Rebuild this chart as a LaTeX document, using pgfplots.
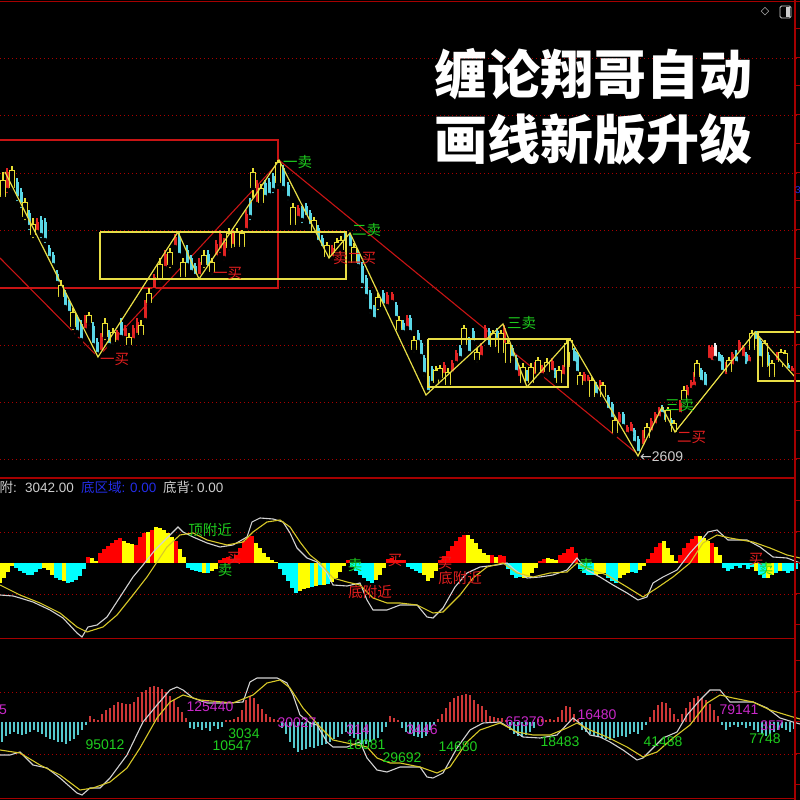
\documentclass[border=0pt]{standalone}
\usepackage{pgfplots}
\usepackage{pgfplotstable}
\pgfplotsset{compat=1.18}
\usepackage{fontspec}
\setmainfont{Liberation Sans}
\newfontfamily\cjk{Noto Sans CJK SC}
\newfontfamily\djv{DejaVu Sans}

\definecolor{framered}{RGB}{165,0,0}
\definecolor{gridred}{RGB}{170,0,0}
\definecolor{kcyan}{RGB}{90,215,230}
\definecolor{kred}{RGB}{225,35,35}
\definecolor{kyellow}{RGB}{232,222,50}
\definecolor{kwhite}{RGB}{240,240,240}
\definecolor{zzyellow}{RGB}{232,222,70}
\definecolor{zzred}{RGB}{200,20,20}
\definecolor{mred}{RGB}{255,0,0}
\definecolor{myellow}{RGB}{255,255,0}
\definecolor{mcyan}{RGB}{0,255,255}
\definecolor{vred}{RGB}{205,55,55}
\definecolor{vcyan}{RGB}{85,200,205}
\definecolor{difwhite}{RGB}{210,210,210}
\definecolor{deayellow}{RGB}{215,200,40}
\definecolor{lblgreen}{RGB}{30,205,30}
\definecolor{lblred}{RGB}{225,30,30}
\definecolor{lblmag}{RGB}{200,40,200}
\definecolor{txtgrey}{RGB}{205,205,205}
\definecolor{txtblue}{RGB}{35,45,230}

% ---------- daily candles: x, open, close, high, low ----------
\pgfplotstableread{
x o c h l
17 3157 3125 3165 3115
21 3137 3111 3145 3101
29 3095 3067 3101 3057
41 3081 3051 3089 3041
45 3077 3041 3085 3031
49 3025 3005 3031 2997
53 3011 2991 3017 2985
57 2973 2955 2981 2951
65 2935 2907 2941 2901
69 2915 2895 2921 2889
77 2885 2857 2891 2851
81 2873 2841 2881 2837
93 2869 2831 2877 2825
97 2837 2813 2845 2807
109 2855 2831 2861 2825
121 2877 2847 2885 2841
179 3045 3011 3057 3005
187 3021 2991 3031 2985
191 3005 2977 3011 2971
195 2989 2969 2995 2965
208 3013 2985 3021 2977
250 3117 3087 3125 3077
265 3155 3127 3161 3121
269 3157 3131 3165 3125
273 3169 3141 3175 3131
283 3185 3145 3191 3137
288 3151 3125 3157 3117
302 3103 3081 3109 3071
306 3109 3087 3115 3081
310 3095 3069 3101 3061
318 3065 3037 3071 3031
322 3045 3025 3051 3021
345 3053 3035 3057 3031
350 3049 3025 3055 3017
358 3015 2989 3021 2981
362 2989 2951 2997 2941
366 2965 2929 2971 2921
370 2935 2899 2941 2891
374 2907 2883 2911 2877
383 2935 2911 2941 2905
396 2911 2885 2917 2877
403 2875 2857 2881 2851
410 2885 2857 2891 2851
418 2855 2837 2861 2831
421 2835 2809 2841 2801
424 2805 2773 2811 2765
428 2769 2737 2777 2731
432 2783 2755 2789 2749
460 2825 2805 2831 2797
469 2841 2815 2847 2809
473 2859 2837 2865 2831
489 2859 2827 2865 2821
497 2859 2841 2865 2837
512 2825 2805 2831 2797
516 2805 2777 2811 2771
527 2775 2755 2781 2749
555 2781 2761 2785 2757
574 2819 2795 2825 2789
577 2811 2775 2817 2769
596 2751 2731 2757 2725
608 2727 2701 2731 2697
612 2713 2683 2717 2677
623 2693 2669 2697 2665
634 2661 2635 2665 2631
638 2643 2615 2649 2609
662 2707 2693 2711 2689
665 2697 2677 2701 2671
671 2681 2665 2685 2661
701 2781 2757 2785 2751
705 2773 2747 2777 2741
719 2813 2795 2817 2791
722 2807 2777 2811 2771
736 2817 2795 2821 2791
746 2813 2789 2817 2785
756 2855 2839 2859 2835
760 2839 2805 2845 2797
768 2811 2785 2817 2777
788 2791 2781 2795 2777
}\cyanK

\pgfplotstableread{
x o c h l
7 3141 3177 3185 3131
37 3057 3077 3085 3049
85 2861 2885 2891 2857
101 2817 2849 2855 2811
117 2837 2857 2861 2831
125 2845 2865 2871 2837
133 2841 2865 2871 2835
137 2851 2877 2885 2845
145 2881 2915 2921 2877
154 2941 2967 2973 2937
165 2985 3013 3021 2977
175 3027 3047 3053 3021
199 2969 2997 3005 2963
216 3007 3033 3041 3001
220 3021 3053 3061 3011
224 3005 3037 3045 2997
233 3029 3055 3061 3021
246 3061 3093 3101 3051
257 3113 3153 3161 3105
298 3085 3105 3111 3077
332 3005 3025 3031 2997
387 2909 2931 2937 2901
392 2917 2933 2937 2911
407 2865 2885 2891 2857
444 2771 2791 2797 2765
452 2775 2795 2801 2769
456 2795 2815 2821 2789
481 2807 2829 2835 2801
485 2841 2865 2871 2835
504 2831 2865 2871 2825
519 2765 2785 2791 2757
535 2769 2791 2797 2761
542 2771 2787 2791 2765
552 2777 2799 2805 2771
563 2769 2787 2791 2765
584 2755 2773 2777 2751
588 2755 2767 2771 2751
600 2741 2757 2761 2737
619 2673 2693 2697 2669
627 2653 2667 2671 2649
631 2655 2673 2677 2649
643 2629 2655 2661 2621
651 2657 2679 2685 2651
655 2671 2693 2697 2665
659 2685 2703 2707 2681
680 2693 2715 2721 2687
687 2727 2747 2751 2721
691 2741 2757 2761 2735
694 2747 2771 2777 2741
709 2801 2827 2831 2797
712 2797 2827 2831 2791
726 2769 2793 2797 2765
732 2789 2813 2817 2785
739 2815 2837 2841 2811
743 2805 2827 2831 2801
749 2795 2807 2811 2791
777 2797 2813 2817 2791
792 2775 2785 2789 2771
}\redK

\pgfplotstableread{
x o c h l
715 2805 2831 2835 2797
}\whiteK

\pgfplotstableread{
x o c h l
3 3127 3161 3177 3121
12 3145 3181 3189 3137
25 3087 3117 3125 3077
33 3051 3073 3085 3041
61 2927 2951 2961 2921
73 2867 2897 2905 2857
89 2875 2891 2897 2867
105 2847 2875 2885 2837
113 2837 2857 2865 2829
129 2831 2847 2855 2823
141 2851 2871 2881 2845
149 2915 2935 2945 2909
160 2961 2993 3005 2953
170 2991 3017 3025 2981
183 2967 2997 3005 2961
204 2991 3011 3021 2981
212 2977 2997 3005 2969
229 3025 3055 3065 3017
237 3027 3057 3065 3021
242 3027 3055 3061 3021
253 3145 3177 3185 3121
261 3115 3145 3153 3107
278 3155 3197 3201 3147
293 3071 3107 3115 3065
314 3055 3081 3087 3049
327 3007 3031 3037 3001
337 3015 3037 3045 3009
341 3021 3041 3049 3013
354 2995 3027 3035 2989
378 2907 2927 2935 2897
399 2861 2881 2889 2853
414 2821 2841 2849 2813
436 2755 2781 2789 2747
440 2765 2785 2791 2757
448 2751 2777 2785 2745
464 2831 2865 2871 2825
477 2801 2817 2825 2793
493 2827 2855 2861 2821
501 2815 2855 2861 2809
508 2795 2835 2841 2789
523 2755 2787 2795 2749
531 2755 2787 2795 2749
538 2775 2801 2807 2767
547 2777 2797 2805 2769
559 2755 2781 2789 2749
567 2787 2835 2841 2781
570 2821 2841 2845 2815
580 2751 2771 2777 2745
592 2727 2761 2767 2721
603 2727 2751 2757 2721
615 2655 2681 2687 2649
647 2645 2667 2675 2639
668 2677 2701 2707 2671
674 2657 2675 2681 2653
684 2721 2741 2749 2713
697 2767 2795 2801 2761
729 2777 2801 2807 2771
752 2821 2855 2861 2815
765 2787 2835 2841 2781
772 2767 2795 2801 2761
781 2797 2817 2823 2791
785 2787 2815 2821 2781
}\yellowK

% ---------- MACD histogram ----------
\pgfplotstableread{
x v
88 6
100 10
104 14
108 17
112 20
116 23
120 25
136 18
140 26
144 30
152 33
176 22
220 3
224 5
228 6
232 4
236 8
240 15
244 22
248 26
252 27
348 3
388 4
392 5
396 3
400 3
404 3
440 3
444 7
448 12
452 17
456 22
460 26
464 28
492 8
500 8
504 7
540 2
544 4
560 8
564 10
568 14
572 16
576 10
648 4
652 10
656 16
660 20
680 8
684 15
688 20
692 24
696 27
712 20
}\macdRed

\pgfplotstableread{
x v
0 -20
4 -15
8 -9
12 -3
44 -5
48 -7
52 -12
64 -18
92 5
96 2
124 22
128 20
132 19
148 31
156 36
160 35
164 33
168 30
172 26
180 14
184 6
204 -10
212 -8
216 -6
256 20
260 15
264 10
268 6
272 3
276 1
300 -28
304 -26
308 -25
316 -23
324 -22
332 -19
336 -15
340 -9
344 -3
376 -17
380 -12
384 -5
424 -12
428 -18
432 -15
436 -8
468 28
472 24
476 20
480 14
484 10
488 8
496 6
524 -15
528 -14
532 -10
536 -5
548 5
552 4
556 3
596 -12
600 -11
604 -10
620 -15
624 -12
628 -10
640 -7
644 -3
664 22
668 15
672 8
676 2
700 27
704 25
708 22
716 16
720 8
756 -8
768 -15
772 -12
780 -8
}\macdYellow

\pgfplotstableread{
x v
16 -5
20 -8
24 -10
28 -12
32 -12
36 -9
40 -6
56 -15
60 -17
68 -20
72 -19
76 -17
80 -13
84 -6
188 -5
192 -7
196 -8
200 -9
208 -10
280 -6
284 -12
288 -18
292 -25
296 -30
312 -24
320 -22
328 -21
352 -4
356 -8
360 -12
364 -15
368 -18
372 -20
408 -4
412 -6
416 -8
420 -10
508 -6
512 -12
516 -15
520 -14
580 -6
584 -10
588 -12
592 -12
608 -15
612 -18
616 -20
632 -9
636 -10
724 -5
728 -8
732 -6
736 -3
740 -5
744 -2
748 -6
752 -4
760 -12
764 -15
776 -10
784 -8
788 -10
792 -8
796 -6
}\macdCyan

% ---------- lower histogram ----------
\pgfplotstableread{
x v
90 6
94 3
98 2
102 8
106 12
110 14
114 17
118 20
122 19
126 18
130 18
134 20
138 25
142 30
146 32
150 35
154 36
158 35
162 33
166 30
170 26
174 22
178 15
182 10
186 4
226 2
230 2
234 3
238 5
242 12
246 22
250 26
254 24
258 18
262 13
266 8
270 5
274 3
278 2
390 6
394 4
398 2
438 3
442 8
446 14
450 20
454 24
458 26
462 27
466 28
470 27
474 22
478 18
482 16
486 12
490 6
494 5
498 4
502 4
506 2
538 3
542 3
546 2
550 3
554 2
558 5
562 12
566 16
570 15
574 8
578 3
650 5
654 12
658 17
662 20
666 19
670 14
674 8
678 3
682 8
686 14
690 20
694 24
698 26
702 24
706 22
710 18
714 12
718 6
}\volRed

\pgfplotstableread{
x v
2 -20
6 -14
10 -12
14 -10
18 -12
22 -13
26 -12
30 -10
34 -8
38 -10
42 -12
46 -15
50 -17
54 -18
58 -20
62 -20
66 -22
70 -19
74 -17
78 -13
82 -8
86 -3
190 -6
194 -7
198 -5
202 -8
206 -6
210 -9
214 -4
218 -7
222 -5
282 -6
286 -12
290 -20
294 -26
298 -30
302 -28
306 -27
310 -25
314 -26
318 -24
322 -23
326 -22
330 -20
334 -17
338 -15
342 -12
346 -10
350 -14
354 -16
358 -18
362 -22
366 -22
370 -20
374 -18
378 -16
382 -10
386 -5
402 -6
406 -10
410 -12
414 -14
418 -15
422 -16
426 -14
430 -8
434 -3
510 -8
514 -12
518 -14
522 -15
526 -13
530 -10
534 -6
582 -8
586 -10
590 -12
594 -14
598 -15
602 -16
606 -17
610 -18
614 -16
618 -15
622 -14
626 -15
630 -12
634 -10
638 -12
642 -8
646 -3
722 -3
726 -8
730 -5
734 -3
738 -5
742 -3
746 -6
750 -4
754 -8
758 -10
762 -12
766 -14
770 -12
774 -10
778 -8
782 -6
786 -8
790 -10
794 -7
}\volCyan

\pgfplotsset{
  panel/.style={scale only axis, width=800pt, anchor=south west,
    xmin=0, xmax=800, axis line style={draw=none}, tick style={draw=none},
    xtick=\empty, yticklabels={}, ymajorgrids,
    major grid style={gridred, dash pattern=on 1pt off 3pt, line width=0.9pt},
    clip mode=individual},
  bar/.style={only marks, mark=none,
    error bars/y dir=plus, error bars/y explicit, error bars/error mark=none,
    error bars/error bar style={solid, line width=1.2pt, #1}},
}
\tikzset{
  lbl/.style={font=\cjk\fontsize{14.5}{15}\selectfont, inner sep=0pt},
  num/.style={font=\fontsize{14}{15}\selectfont, inner sep=0pt},
}

\begin{document}
\begin{tikzpicture}
\useasboundingbox (0pt,0pt) rectangle (800pt,800pt);
\fill[black] (0pt,0pt) rectangle (800pt,800pt);
\clip (0pt,0pt) rectangle (800pt,800pt);

% ================= price panel =================
\begin{axis}[panel, at={(0pt,322pt)}, height=478pt, ymin=2565, ymax=3521,
  ytick={2603,2717,2831,2946,3061,3175,3290,3405}]
  % higher-level stroke and its pivot range
  \addplot[zzred, line width=1.1pt] coordinates {(-10,3241) (278,3241) (278,2945) (-10,2945) (-10,3241)};
  \addplot[zzred, line width=1.1pt] coordinates {(0,3005) (98,2807) (280,3199) (640,2609)};
  % candles
  \addplot[bar=kcyan] table[x=x, y=l, y error plus expr=\thisrow{h}-\thisrow{l}] {\cyanK};
  \addplot[bar={kcyan, line width=3pt}] table[x=x, y=c, y error plus expr=\thisrow{o}-\thisrow{c}] {\cyanK};
  \addplot[bar=kred] table[x=x, y=l, y error plus expr=\thisrow{h}-\thisrow{l}] {\redK};
  \addplot[bar={kred, line width=3pt}] table[x=x, y=o, y error plus expr=\thisrow{c}-\thisrow{o}] {\redK};
  \addplot[bar=kwhite] table[x=x, y=l, y error plus expr=\thisrow{h}-\thisrow{l}] {\whiteK};
  \addplot[bar={kwhite, line width=3pt}] table[x=x, y=o, y error plus expr=\thisrow{c}-\thisrow{o}] {\whiteK};
  \addplot[bar=kyellow] table[x=x, y=l, y error plus expr=\thisrow{h}-\thisrow{l}] {\yellowK};
  \addplot[bar={kyellow, line width=5.6pt}] table[x=x, y=o, y error plus expr=\thisrow{c}-\thisrow{o}] {\yellowK};
  \addplot[bar={black, line width=3.4pt}] table[x=x, y expr=\thisrow{o}+2.4, y error plus expr=\thisrow{c}-\thisrow{o}-4.8] {\yellowK};
  % pivot boxes
  \addplot[zzyellow, line width=1.2pt] coordinates {(100,3057) (346,3057) (346,2963) (100,2963) (100,3057)};
  \addplot[zzyellow, line width=1.2pt] coordinates {(428,2843) (568,2843) (568,2747) (428,2747) (428,2843)};
  \addplot[zzyellow, line width=1.2pt] coordinates {(805,2857) (758,2857) (758,2759) (805,2759)};
  % strokes
  \addplot[zzyellow, line width=1.2pt] coordinates {(5,3177) (98,2807) (178,3057) (199,2963) (279,3201) (329,3005) (350,3055) (426,2731) (503,2873) (527,2747) (570,2843) (638,2609) (662,2707) (675,2657) (755,2857) (795,2767)};
  % signals
  \node[lbl, text=lblgreen, anchor=west] at (axis cs:283,3197) {一卖};
  \node[lbl, text=lblgreen, anchor=west] at (axis cs:352,3061) {二卖};
  \node[lbl, text=lblred, anchor=west] at (axis cs:333,3005) {卖};
  \node[lbl, text=lblred, anchor=west] at (axis cs:347,3005) {二买};
  \node[lbl, text=lblred, anchor=west] at (axis cs:100,2803) {一买};
  \node[lbl, text=lblred, anchor=west] at (axis cs:213,2975) {一买};
  \node[lbl, text=lblgreen, anchor=west] at (axis cs:507,2875) {三卖};
  \node[lbl, text=lblgreen, anchor=west] at (axis cs:665,2711) {三卖};
  \node[lbl, text=lblred, anchor=west] at (axis cs:677,2647) {二买};
  \node[num, text=txtgrey, anchor=west] at (axis cs:640,2607) {{\djv ←}2609};
\end{axis}

% ================= MACD panel =================
\begin{axis}[panel, at={(0pt,162pt)}, height=160pt, ymin=-75, ymax=85, ytick={-31,31}]
  \addplot[ycomb, mark=none, mred, line width=4.3pt] table[x=x, y=v] {\macdRed};
  \addplot[ycomb, mark=none, myellow, line width=4.3pt] table[x=x, y=v] {\macdYellow};
  \addplot[ycomb, mark=none, mcyan, line width=4.3pt] table[x=x, y=v] {\macdCyan};
  \addplot[difwhite, line width=1.1pt] coordinates {(0,-32) (13,-33) (20,-35) (33,-39) (50,-47) (63,-55) (77,-70) (82,-74) (88,-64) (97,-62) (107,-54) (120,-34) (133,-14) (143,-2) (155,13) (170,28) (178,36) (183,31) (193,26) (207,20) (220,16) (233,18) (247,26) (252,41) (260,45) (273,44) (283,41) (290,30) (297,15) (307,5) (317,1) (327,-10) (333,-22) (347,-23) (360,-20) (367,-37) (373,-47) (387,-47) (400,-42) (417,-42) (427,-54) (433,-55) (443,-45) (455,-24) (467,-10) (480,-4) (497,-2) (507,0) (515,-7) (527,-15) (540,-14) (553,-12) (567,-7) (577,5) (587,-7) (600,-14) (613,-22) (627,-30) (638,-37) (647,-34) (653,-20) (663,-14) (677,-7) (690,10) (700,21) (708,31) (717,33) (728,23) (747,23) (760,16) (773,6) (787,5) (800,0)};
  \addplot[deayellow, line width=1.1pt] coordinates {(0,-22) (10,-27) (20,-32) (40,-40) (60,-50) (77,-64) (87,-69) (103,-64) (117,-52) (133,-32) (147,-14) (157,1) (167,16) (180,28) (193,30) (207,23) (227,18) (243,21) (253,31) (267,41) (280,43) (290,36) (300,21) (310,8) (320,0) (333,-15) (347,-19) (360,-22) (373,-35) (387,-40) (400,-40) (417,-42) (433,-50) (443,-49) (460,-32) (473,-15) (487,-4) (503,0) (517,-10) (533,-14) (550,-10) (567,-9) (577,0) (587,-5) (607,-12) (627,-24) (643,-34) (657,-25) (673,-14) (690,0) (703,20) (717,28) (730,25) (753,21) (770,15) (787,8) (800,5)};
  \node[lbl, text=lblgreen] at (axis cs:210,33) {顶附近};
  \node[lbl, text=lblred] at (axis cs:234,5) {买};
  \node[lbl, text=lblgreen] at (axis cs:225,-7) {卖};
  \node[lbl, text=lblgreen] at (axis cs:355,-2) {卖};
  \node[lbl, text=lblred] at (axis cs:395,3) {买};
  \node[lbl, text=lblred] at (axis cs:370,-29) {底附近};
  \node[lbl, text=lblred] at (axis cs:445,0) {买};
  \node[lbl, text=lblred] at (axis cs:460,-15) {底附近};
  \node[lbl, text=lblgreen] at (axis cs:586,-2) {卖};
  \node[lbl, text=lblred] at (axis cs:756,4) {买};
  \node[lbl, text=lblgreen] at (axis cs:766,-6) {卖};
\end{axis}

% ================= lower panel =================
\begin{axis}[panel, at={(0pt,0pt)}, height=161pt, ymin=-78, ymax=83, ytick={-32,30}]
  \addplot[ycomb, mark=none, vred, line width=1.8pt] table[x=x, y=v] {\volRed};
  \addplot[ycomb, mark=none, vcyan, line width=1.8pt] table[x=x, y=v] {\volCyan};
  \addplot[difwhite, line width=1.1pt] coordinates {(0,-33) (10,-33) (20,-30) (33,-43) (47,-46) (60,-56) (77,-71) (82,-73) (90,-66) (100,-66) (110,-56) (127,-33) (143,0) (157,17) (170,32) (177,35) (183,32) (193,24) (207,19) (227,19) (243,20) (250,40) (257,44) (277,44) (287,39) (293,27) (300,7) (310,-1) (317,-3) (327,-20) (333,-25) (347,-25) (360,-20) (367,-36) (377,-48) (387,-50) (400,-45) (420,-45) (427,-55) (433,-56) (443,-51) (457,-26) (470,-8) (483,-1) (500,0) (513,-8) (523,-15) (540,-16) (557,-13) (573,4) (582,-3) (590,-13) (600,-15) (610,-20) (623,-28) (637,-38) (643,-36) (653,-26) (663,-16) (677,-10) (687,7) (700,22) (710,32) (720,32) (730,20) (753,20) (767,14) (780,4) (793,0) (800,-2)};
  \addplot[deayellow, line width=1.1pt] coordinates {(0,-28) (20,-31) (40,-43) (60,-53) (80,-68) (93,-66) (110,-60) (127,-46) (140,-26) (157,4) (170,20) (183,27) (200,22) (233,19) (253,27) (267,39) (280,42) (290,34) (303,14) (320,-5) (333,-18) (347,-21) (367,-25) (377,-36) (390,-41) (400,-41) (420,-45) (437,-51) (450,-45) (467,-20) (480,-8) (500,-1) (517,-10) (533,-13) (550,-13) (567,-6) (577,-1) (590,-8) (607,-15) (627,-25) (643,-35) (657,-30) (673,-16) (690,-3) (707,19) (720,27) (733,24) (753,20) (770,12) (793,5) (800,3)};
  \node[num, text=lblmag] at (axis cs:3,12) {5};
  \node[num, text=lblgreen] at (axis cs:105,-23) {95012};
  \node[num, text=lblmag] at (axis cs:210,15) {125440};
  \node[num, text=lblgreen] at (axis cs:232,-24) {10547};
  \node[num, text=lblgreen] at (axis cs:244,-12) {3034};
  \node[num, text=lblmag] at (axis cs:297,-1) {30027};
  \node[num, text=lblmag] at (axis cs:358,-8) {314};
  \node[num, text=lblgreen] at (axis cs:366,-23) {18081};
  \node[num, text=lblgreen] at (axis cs:402,-36) {29692};
  \node[num, text=lblmag] at (axis cs:422,-8) {3446};
  \node[num, text=lblgreen] at (axis cs:458,-25) {14680};
  \node[num, text=lblmag] at (axis cs:525,0) {65370};
  \node[num, text=lblgreen] at (axis cs:560,-20) {18483};
  \node[num, text=lblmag] at (axis cs:597,7) {16480};
  \node[num, text=lblgreen] at (axis cs:663,-20) {41488};
  \node[num, text=lblmag] at (axis cs:739,12) {79141};
  \node[num, text=lblmag] at (axis cs:772,-4) {357};
  \node[num, text=lblgreen] at (axis cs:765,-17) {7748};
\end{axis}

% ================= frame =================
\draw[framered, line width=1.6pt] (0pt,798.5pt) -- (800pt,798.5pt);
\draw[framered, line width=1.6pt] (0pt,322pt) -- (795pt,322pt);
\draw[framered, line width=1.6pt] (0pt,161.5pt) -- (795pt,161.5pt);
\draw[framered, line width=1.6pt] (0pt,1.5pt) -- (795pt,1.5pt);
\draw[framered, line width=1.4pt] (795pt,0pt) -- (795pt,800pt);
\foreach \p in {29,58,86,115,144,173,201,230,259,288,316,345,374,402,431,459,501,532,563,594,625,661,692,722,754,785}
  \draw[framered, line width=1pt] (795pt,{(800-\p)*1pt}) -- (800pt,{(800-\p)*1pt});

% header readout
\node[font=\fontsize{13.5}{14}\selectfont, text=txtgrey, anchor=base east, inner sep=0pt] at (17pt,307pt) {{\cjk 顶附}:};
\node[font=\fontsize{13.5}{14}\selectfont, text=txtgrey, anchor=base west, inner sep=0pt] at (25pt,307pt) {3042.00};
\node[font=\fontsize{13.5}{14}\selectfont, text=txtblue, anchor=base west, inner sep=0pt] at (81pt,307pt) {{\cjk 底区域}:};
\node[font=\fontsize{13.5}{14}\selectfont, text=txtblue, anchor=base west, inner sep=0pt] at (130pt,307pt) {0.00};
\node[font=\fontsize{13.5}{14}\selectfont, text=txtgrey, anchor=base west, inner sep=0pt] at (163pt,307pt) {{\cjk 底背}:};
\node[font=\fontsize{13.5}{14}\selectfont, text=txtgrey, anchor=base west, inner sep=0pt] at (197pt,307pt) {0.00};

% title
\node[text=white, font=\cjk\bfseries\fontsize{53}{56}\selectfont, inner sep=0pt] at (593pt,726pt) {缠论翔哥自动};
\node[text=white, font=\cjk\bfseries\fontsize{53}{56}\selectfont, inner sep=0pt] at (593pt,661pt) {画线新版升级};

% window icons
\node[text=txtgrey, font=\djv\fontsize{11}{12}\selectfont, inner sep=0pt] at (765pt,788pt) {◇};
\draw[txtgrey, line width=0.9pt, rounded corners=1.5pt] (780pt,782pt) rectangle (791pt,794pt);
\fill[txtgrey] (786pt,783pt) rectangle (790pt,793pt);
\node[text=txtblue, font=\fontsize{10}{11}\selectfont, anchor=west, inner sep=0pt] at (795pt,610pt) {3};
\end{tikzpicture}
\end{document}
